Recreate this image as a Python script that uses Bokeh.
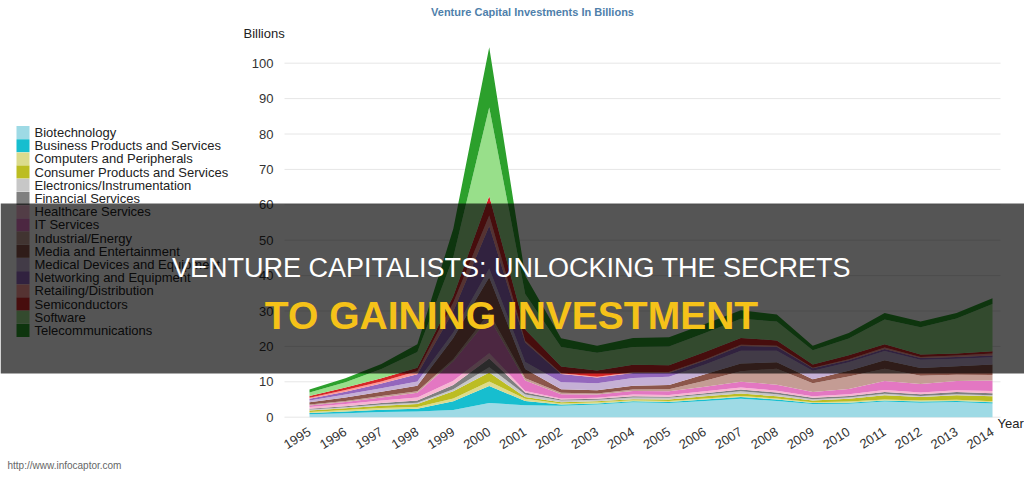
from bokeh.plotting import figure
from bokeh.models import (ColumnDataSource, Range1d, FixedTicker, Label, BoxAnnotation,
                          LinearAxis, Grid)
from bokeh.embed import file_html
from bokeh.resources import INLINE

years = list(range(1995, 2015))

series_names = [
    "Biotechnology", "Business Products and Services", "Computers and Peripherals",
    "Consumer Products and Services", "Electronics/Instrumentation", "Financial Services",
    "Healthcare Services", "IT Services", "Industrial/Energy", "Media and Entertainment",
    "Medical Devices and Equipment", "Networking and Equipment", "Retailing/Distribution",
    "Semiconductors", "Software", "Telecommunications",
]
series_colors = [
    "#9edae5", "#17becf", "#dbdb8d", "#bcbd22", "#c7c7c7", "#7f7f7f",
    "#f7b6d2", "#e377c2", "#c49c94", "#8c564b", "#c5b0d5", "#9467bd",
    "#ff9896", "#d62728", "#98df8a", "#2ca02c",
]

biotech     = [0.8, 1.1, 1.5, 1.6, 2.0, 4.0, 3.4, 3.2, 3.6, 4.2, 4.0, 4.6, 5.2, 4.6, 3.7, 3.8, 4.4, 4.1, 4.3, 3.9]
business    = [0.4, 0.5, 0.6, 0.8, 2.5, 4.8, 1.2, 0.4, 0.3, 0.3, 0.3, 0.4, 0.5, 0.4, 0.3, 0.3, 0.3, 0.3, 0.3, 0.3]
computers   = [0.3, 0.4, 0.5, 0.5, 0.8, 1.3, 0.6, 0.3, 0.3, 0.3, 0.3, 0.3, 0.3, 0.3, 0.2, 0.3, 0.3, 0.3, 0.3, 0.3]
consumer    = [0.4, 0.5, 0.6, 0.8, 2.0, 2.5, 0.5, 0.3, 0.3, 0.3, 0.4, 0.6, 0.7, 0.6, 0.5, 0.8, 1.2, 1.0, 1.3, 1.4]
electronics = [0.3, 0.3, 0.4, 0.4, 0.6, 1.5, 0.7, 0.5, 0.4, 0.5, 0.5, 0.5, 0.6, 0.6, 0.4, 0.4, 0.4, 0.3, 0.3, 0.3]
financial   = [0.2, 0.3, 0.4, 0.6, 1.2, 2.5, 0.6, 0.3, 0.3, 0.3, 0.3, 0.4, 0.5, 0.5, 0.4, 0.4, 0.5, 0.5, 0.6, 0.6]
healthcare  = [0.5, 0.6, 0.7, 0.9, 1.2, 1.5, 0.4, 0.3, 0.3, 0.5, 0.5, 0.5, 0.6, 0.5, 0.4, 0.5, 0.6, 0.5, 0.5, 0.6]
it_services = [0.4, 0.6, 0.9, 1.3, 5.5, 10.0, 3.0, 1.2, 0.9, 1.0, 1.0, 1.3, 1.6, 1.7, 1.2, 1.5, 2.5, 2.4, 2.6, 3.0]
industrial  = [0.3, 0.3, 0.4, 0.4, 0.6, 1.4, 0.6, 0.4, 0.3, 0.4, 0.6, 1.7, 3.0, 4.5, 2.5, 3.5, 3.5, 2.3, 1.8, 1.5]
media       = [0.6, 1.0, 1.2, 1.6, 6.0, 10.0, 2.6, 1.0, 0.9, 1.1, 1.2, 1.8, 2.2, 1.8, 1.1, 1.6, 2.4, 2.2, 2.4, 3.0]
medical     = [0.5, 0.8, 1.0, 1.2, 1.5, 2.5, 2.0, 2.0, 2.0, 2.2, 2.3, 2.8, 3.6, 3.3, 2.4, 2.4, 2.6, 2.3, 2.1, 2.0]
networking  = [0.5, 0.8, 1.3, 2.0, 6.0, 12.0, 5.5, 2.3, 1.6, 1.4, 1.1, 1.1, 1.3, 1.1, 0.7, 0.6, 0.6, 0.5, 0.5, 0.5]
retailing   = [0.3, 0.5, 0.6, 0.9, 2.5, 3.0, 0.5, 0.2, 0.2, 0.2, 0.3, 0.3, 0.4, 0.3, 0.2, 0.3, 0.4, 0.3, 0.4, 0.6]
semis       = [0.5, 0.7, 0.9, 1.0, 1.8, 5.5, 3.2, 1.9, 1.8, 2.1, 1.9, 2.1, 1.9, 1.5, 0.9, 1.1, 0.9, 0.7, 0.6, 0.6]
software    = [1.0, 1.5, 2.6, 4.4, 11.0, 25.0, 10.0, 5.5, 5.0, 5.0, 5.3, 5.4, 5.4, 5.3, 4.0, 4.7, 7.0, 7.7, 9.9, 13.4]
telecom     = [0.8, 1.1, 1.4, 2.2, 8.0, 17.0, 5.2, 2.5, 2.0, 2.6, 2.6, 2.5, 2.4, 2.0, 1.3, 1.6, 1.8, 1.6, 1.5, 1.6]

y_ticks = [0, 10, 20, 30, 40, 50, 60, 70, 80, 90, 100]

all_series = [biotech, business, computers, consumer, electronics, financial, healthcare,
              it_services, industrial, media, medical, networking, retailing, semis,
              software, telecom]
keys = ["s%d" % i for i in range(len(all_series))]
data = {"year": years}
for k, s in zip(keys, all_series):
    data[k] = s
source = ColumnDataSource(data)

# ---- layout constants (pixels) ----
W, H = 1024, 477
X0_PX, X1_PX = 309.0, 992.0          # pixel positions of first / last year
Y0_PX, Y100_PX = 416.7, 62.7         # pixel positions of 0 and 100
px_per_year = (X1_PX - X0_PX) / (years[-1] - years[0])
px_per_unit = (Y0_PX - Y100_PX) / 100.0
x_start = years[0] - X0_PX / px_per_year
x_end = years[0] + (W - X0_PX) / px_per_year
y_end = Y0_PX / px_per_unit
y_start = -(H - Y0_PX) / px_per_unit


def x_at(px):
    return x_start + px / px_per_year


def y_at(py):
    return y_end - py / px_per_unit


p = figure(width=W, height=H, output_backend="svg", toolbar_location=None, title=None,
           x_range=Range1d(x_start, x_end), y_range=Range1d(y_start, y_end),
           x_axis_location=None, y_axis_location=None, min_border=0)
p.outline_line_color = None
p.background_fill_color = "white"
p.border_fill_color = "white"
for r in list(p.center):
    if isinstance(r, Grid):
        r.visible = False

# horizontal grid lines (behind the areas), limited to the chart region
p.segment(x0=x_at(284), x1=x_at(1000), y0=y_ticks, y1=y_ticks,
          line_color="#e6e6e6", line_width=1)

renderers = p.varea_stack(stackers=keys, x="year", color=series_colors, source=source)

# axes drawn at fixed positions inside the canvas
yaxis = LinearAxis(fixed_location=x_at(284), ticker=FixedTicker(ticks=y_ticks))
xaxis = LinearAxis(fixed_location=y_at(418), ticker=FixedTicker(ticks=years))
for ax in (xaxis, yaxis):
    ax.axis_line_color = None
    ax.major_tick_line_color = None
    ax.minor_tick_line_color = None
    ax.major_label_text_font = "Liberation Sans"
    ax.major_label_text_font_size = "13px"
    ax.major_label_text_color = "#333333"
xaxis.major_label_orientation = 0.55
xaxis.major_label_standoff = 6
yaxis.major_label_standoff = 5
p.add_layout(yaxis, "left")
p.add_layout(xaxis, "below")


def canvas_label(x, y, text, size, color, align="left", style="normal", level="annotation"):
    return Label(x=x, y=y, x_units="canvas", y_units="canvas", text=text,
                 text_align=align, text_baseline="middle", text_font="Liberation Sans",
                 text_font_style=style, text_font_size=size, text_color=color, level=level)


# legend (swatch + label per series, rows of 13.2 px)
LEG_X, LEG_Y, ROW = 16, 132.0, 13.2
for i, (name, color) in enumerate(zip(series_names, series_colors)):
    cy = LEG_Y + ROW * i
    p.add_layout(BoxAnnotation(left=LEG_X, right=LEG_X + 13, top=cy - 6.5, bottom=cy + 6.5,
                               left_units="canvas", right_units="canvas",
                               top_units="canvas", bottom_units="canvas",
                               fill_color=color, fill_alpha=1.0, line_color=None))
    p.add_layout(canvas_label(LEG_X + 18, cy, name, "13px", "#222222"))

# texts
p.add_layout(canvas_label(532, 11, "Venture Capital Investments In Billions", "11px",
                          "#4f7fab", align="center", style="bold"))
p.add_layout(canvas_label(243, 33, "Billions", "13px", "#222222"))
p.add_layout(canvas_label(997, 423, "Year", "13px", "#222222"))
p.add_layout(canvas_label(7, 465, "http://www.infocaptor.com", "10px", "#666666"))

# banner overlay
p.add_layout(BoxAnnotation(left=0, right=W, top=203, bottom=373,
                           left_units="canvas", right_units="canvas",
                           top_units="canvas", bottom_units="canvas",
                           fill_color="black", fill_alpha=0.667, line_color=None,
                           level="overlay"))
p.add_layout(canvas_label(511, 267, "VENTURE CAPITALISTS: UNLOCKING THE SECRETS", "27px",
                          "white", align="center", level="overlay"))
p.add_layout(canvas_label(511, 315, "TO GAINING INVESTMENT", "39px", "#f5c219",
                          align="center", style="bold", level="overlay"))

open("out.html", "w").write(file_html(p, INLINE))
